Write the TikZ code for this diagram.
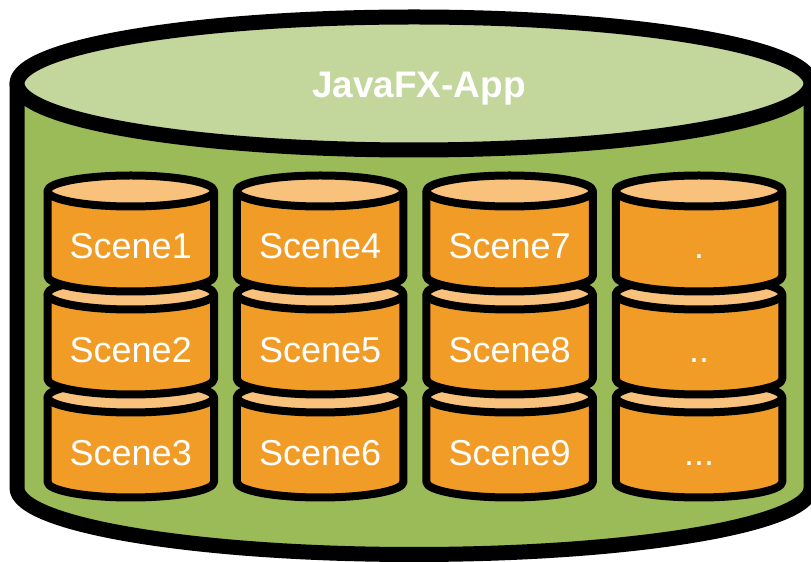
\documentclass[tikz,border=0pt]{standalone}
\usepackage{fontspec}
\setmainfont{Liberation Sans}
\definecolor{gtop}{HTML}{C3D69B}
\definecolor{gbody}{HTML}{9BBB59}
\definecolor{obody}{HTML}{F29C28}
\definecolor{otop}{HTML}{F8C27C}
\begin{document}
\begin{tikzpicture}[x=1pt,y=1pt,line join=round,
  bigline/.style={line width=15pt,draw=black},
  smallline/.style={line width=8pt,draw=black},
  lbl/.style={text=white,font=\fontsize{36}{40}\selectfont,anchor=base,inner sep=0pt},
  ttl/.style={text=white,font=\bfseries\fontsize{37}{42}\selectfont,anchor=base,inner sep=0pt}]
\useasboundingbox (0,0) rectangle (811,562);
\fill[white] (0,0) rectangle (811,562);
% big cylinder
\draw[bigline,fill=gbody] (17,478.5) -- (17,74)
  arc[start angle=180,end angle=360,x radius=397,y radius=66.5] -- (811,478.5) -- cycle;
\draw[bigline,fill=gtop] (414,478.5) ellipse[x radius=397,y radius=66.5];
\node[ttl] (title) at (419,464) {JavaFX-App};
% small cylinders (lowest row first)
\foreach \ty in {165,268,371}{
  \foreach \cx in {130.75,320.2,509.6,699}{
    \draw[smallline,fill=obody] (\cx-83.25,\ty) -- (\cx-83.25,\ty-85)
      arc[start angle=180,end angle=360,x radius=83.25,y radius=15.5] -- (\cx+83.25,\ty) -- cycle;
    \draw[smallline,fill=otop] (\cx,\ty) ellipse[x radius=83.25,y radius=15.5];
  }
}
\node[lbl] (s1) at (130.75,303) {Scene1};
\node[lbl] (s2) at (130.75,199) {Scene2};
\node[lbl] (s3) at (130.75,96) {Scene3};
\node[lbl] (s4) at (320.2,303) {Scene4};
\node[lbl] (s5) at (320.2,199) {Scene5};
\node[lbl] (s6) at (320.2,96) {Scene6};
\node[lbl] (s7) at (509.6,303) {Scene7};
\node[lbl] (s8) at (509.6,199) {Scene8};
\node[lbl] (s9) at (509.6,96) {Scene9};
\node[lbl] (d1) at (699,303) {.};
\node[lbl] (d2) at (699,199) {..};
\node[lbl] (d3) at (699,96) {...};
\end{tikzpicture}
\end{document}
